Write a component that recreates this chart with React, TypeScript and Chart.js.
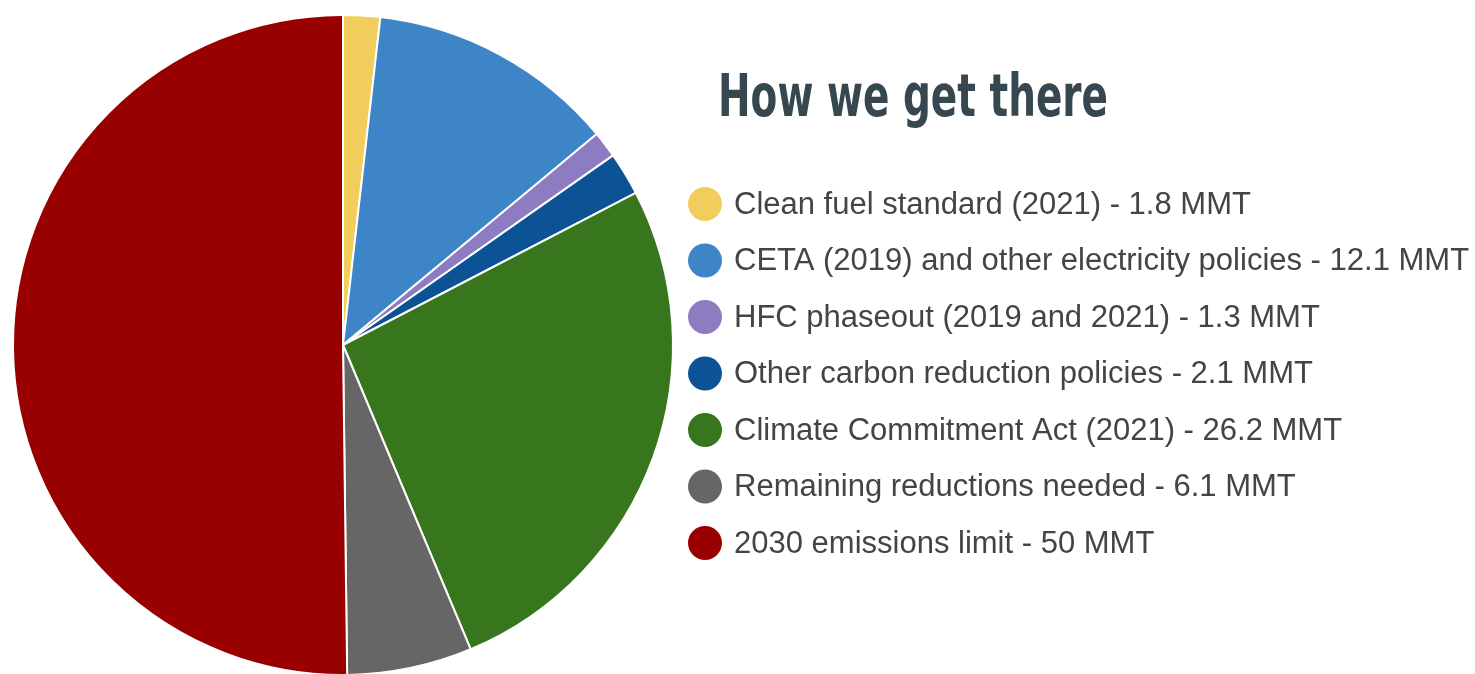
import React, { useEffect, useRef } from "react";
import { Chart, registerables } from "chart.js";

Chart.register(...registerables);

const categories = [
  "Clean fuel standard (2021)",
  "CETA (2019) and other electricity policies",
  "HFC phaseout (2019 and 2021)",
  "Other carbon reduction policies",
  "Climate Commitment Act (2021)",
  "Remaining reductions needed",
  "2030 emissions limit",
];
const values = [1.8, 12.1, 1.3, 2.1, 26.2, 6.1, 50];
const colors = ["#f1cd5c", "#3d85c6", "#8e7cc3", "#0b5394", "#38761d", "#666666", "#990000"];
const unit = "MMT";
const titleText = "How we get there";

// Legend + heading drawn to the right of the pie
const sideLegend = {
  id: "sideLegend",
  afterDraw(chart: any) {
    const ctx = chart.ctx as CanvasRenderingContext2D;
    ctx.save();
    ctx.fillStyle = "#37474f";
    ctx.font = "bold 58px 'Liberation Sans Narrow', 'DejaVu Sans Condensed', sans-serif";
    ctx.textAlign = "left";
    ctx.textBaseline = "alphabetic";
    ctx.fillText(titleText, 718, 116, 390);

    const rowStart = 204;
    const rowGap = 56.5;
    ctx.font = "31px 'Liberation Sans', Arial, sans-serif";
    ctx.textBaseline = "middle";
    categories.forEach((name, i) => {
      const y = rowStart + i * rowGap;
      ctx.beginPath();
      ctx.arc(705, y, 17, 0, Math.PI * 2);
      ctx.fillStyle = colors[i];
      ctx.fill();
      ctx.fillStyle = "#444444";
      ctx.fillText(`${name} - ${values[i]} ${unit}`, 734, y + 1);
    });
    ctx.restore();
  },
};

export default function App() {
  const ref = useRef<HTMLCanvasElement | null>(null);

  useEffect(() => {
    if (!ref.current) return;
    const chart = new Chart(ref.current, {
      type: "pie",
      data: {
        labels: categories,
        datasets: [
          {
            data: values,
            backgroundColor: colors,
            borderColor: "#ffffff",
            borderWidth: 2,
          },
        ],
      },
      options: {
        responsive: false,
        animation: false,
        layout: { padding: { left: 12, top: 14, right: 801, bottom: 24 } },
        plugins: {
          legend: { display: false },
          tooltip: { enabled: false },
        },
      },
      plugins: [sideLegend],
    });
    return () => chart.destroy();
  }, []);

  return (
    <div style={{ position: "absolute", left: 0, top: 0, width: 1475, height: 700, background: "#ffffff" }}>
      <canvas ref={ref} width={1475} height={700} style={{ display: "block" }} />
    </div>
  );
}
